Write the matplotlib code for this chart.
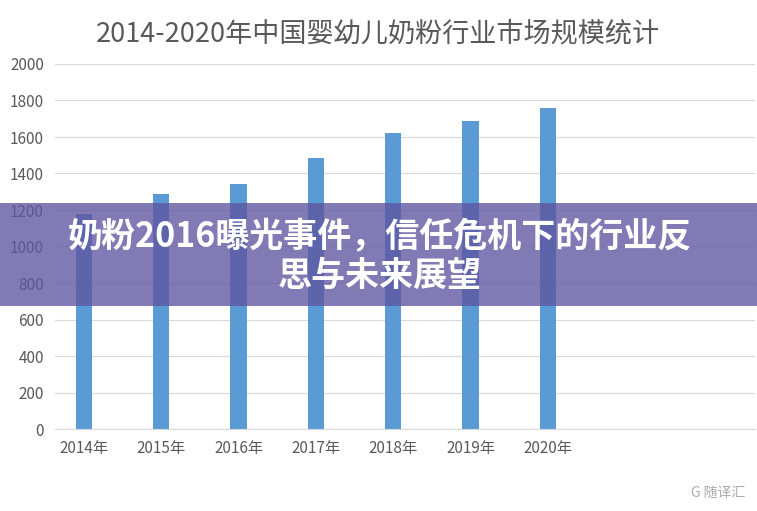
import matplotlib
matplotlib.use("Agg")
import matplotlib.pyplot as plt
from matplotlib import font_manager as fm
from matplotlib.patches import Rectangle

names = sorted({f.name for f in fm.fontManager.ttflist if "CJK" in f.name or "Noto" in f.name})
cjk = [n for n in names if "CJK" in n]
fam = cjk[0] if cjk else "DejaVu Sans"
for pref in ["Noto Sans CJK SC", "Noto Sans CJK JP"]:
    if pref in cjk:
        fam = pref
        break
plt.rcParams['font.family'] = [fam, 'DejaVu Sans']

years = ["2014年", "2015年", "2016年", "2017年", "2018年", "2019年", "2020年"]
values = [1180, 1290, 1345, 1485, 1620, 1690, 1760]
yticks = [0, 200, 400, 600, 800, 1000, 1200, 1400, 1600, 1800, 2000]
title = "2014-2020年中国婴幼儿奶粉行业市场规模统计"
overlay = "奶粉2016曝光事件，信任危机下的行业反\n思与未来展望"

W, H = 757, 511
fig = plt.figure(figsize=(W/100, H/100), dpi=100)
ax = fig.add_axes([55/W, 1-429/H, 700/W, (429-64)/H])
x = list(range(len(years)))
ax.bar(x, values, width=0.21, color="#5b9bd5", zorder=2)
ax.set_xlim(-0.375, 8.68)
ax.set_ylim(0, 2000)
ax.set_yticks(yticks)
ax.set_yticklabels([str(v) for v in yticks], fontsize=11, color="#595959")
ax.set_xticks(x)
ax.set_xticklabels(years, fontsize=11, color="#595959")
ax.tick_params(length=0, pad=8)
ax.grid(axis="y", color="#d9d9d9", lw=0.8, zorder=0)
for s in ["top", "right", "left"]:
    ax.spines[s].set_visible(False)
ax.spines["bottom"].set_color("#d9d9d9")
fig.text(378/W, 1-34/H, title, ha="center", va="center", fontsize=19.5, color="#595959")

fig.patches.append(Rectangle((0, 1-306/H), 1, 103/H, transform=fig.transFigure,
                             facecolor="#5e55a0", alpha=0.78, zorder=5))
fig.text(380/W, 1-256/H, overlay, ha="center", va="center", fontsize=24.5,
         fontweight="bold", color="white", linespacing=1.15, zorder=6)
fig.text(745/W, 1-493/H, "G 随译汇", ha="right", va="center", fontsize=10,
         color="#aaaaaa", zorder=6)
fig.savefig("out.png", dpi=100)
